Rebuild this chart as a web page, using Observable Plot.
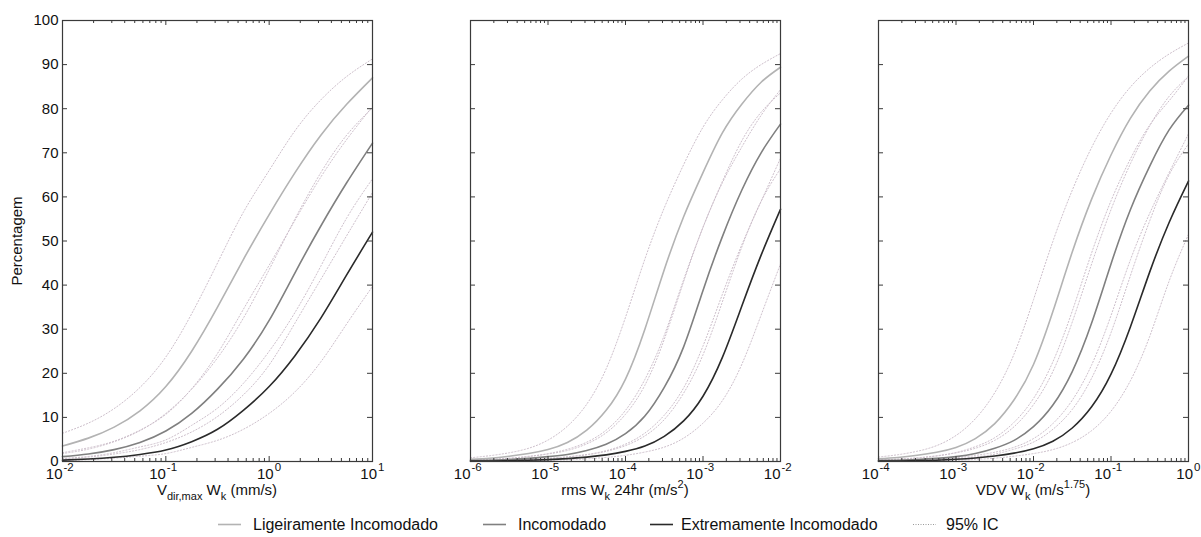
<!DOCTYPE html>
<html><head><meta charset="utf-8">
<script src="https://cdn.jsdelivr.net/npm/d3@7"></script>
<script src="https://cdn.jsdelivr.net/npm/@observablehq/plot@0.6"></script>
<style>
body{margin:0;background:#fff;font-family:"Liberation Sans",Arial,sans-serif;color:#111}
#wrap{position:relative;width:1201px;height:537px;overflow:hidden;background:#fff}
.panel{position:absolute;top:0}
.xt{position:absolute;top:481px;font-size:15px;white-space:nowrap;transform:translateX(-50%);line-height:17px}
.xt sub{font-size:11px;vertical-align:-5px;line-height:0}
.xt sup{font-size:11px;vertical-align:7px;line-height:0}
.lg{position:absolute;top:515px;font-size:16px;line-height:20px;white-space:nowrap}
.sw{position:absolute;top:515px}
</style></head>
<body><div id="wrap"></div>
<script>
// ---------- data ----------
const yTicks = [0,10,20,30,40,50,60,70,80,90,100];

// Panel 1: Vdir,max Wk (mm/s), log10 x at quarter decades
const p1Exp = [-2,-1.75,-1.5,-1.25,-1,-0.75,-0.5,-0.25,0,0.25,0.5,0.75,1];
const p1Majors = [1e-2,1e-1,1,10];
const p1Light   = [3.5,5.3,7.8,11.5,17,25,35,45.8,56,65.5,74,81,87];
const p1LightHi = [6.4,8.7,12,16.8,23.7,33.5,45,56.5,66,75,82,87.3,91.3];
const p1LightLo = [2.0,3.1,4.6,7.1,10.7,16.5,24.5,34.5,44.5,54.7,64.5,73,80.5];
const p1Mid     = [1.1,1.7,2.7,4.3,6.9,10.9,16.4,23.2,32,42.8,53.4,63.2,72.2];
const p1MidHi   = [1.8,2.8,4.5,7.0,10.9,16.4,23.5,32.5,43.5,55,65.5,74,80.2];
const p1MidLo   = [0.67,1.0,1.7,2.7,4.3,6.7,10.2,15.1,21.9,31.4,41.3,51.2,61];
const p1Dark    = [0.3,0.55,0.95,1.6,2.6,4.5,7.3,11.6,17,24,32.5,42.3,52];
const p1DarkHi  = [0.66,1.14,2.0,3.3,4.9,8.2,12.1,17.7,25,33.8,44.3,55.2,64.1];
const p1DarkLo  = [0.24,0.42,0.73,1.2,1.8,3.2,4.8,7.3,10.9,15.8,22.6,31.2,39.7];

// Panel 2: rms Wk 24hr (m/s^2)
const p2Exp = [-6,-5.75,-5.5,-5.25,-5,-4.75,-4.5,-4.25,-4,-3.75,-3.5,-3.25,-3,-2.75,-2.5,-2.25,-2];
const p2Majors = [1e-6,1e-5,1e-4,1e-3,1e-2];
const p2Light   = [0.5,0.75,1.2,1.8,2.7,4.3,7.1,11.6,18.7,30,43.5,55.5,65.5,74.5,81,86,89.4];
const p2LightHi = [0.84,1.32,1.98,3.0,4.86,8.0,13,21,32.7,45.9,57.5,67.3,75.8,82,86.7,90,92.5];
const p2LightLo = [0.3,0.46,0.7,1.1,1.7,2.5,4.0,6.5,10.7,17.3,27.7,40.8,53.1,63.5,72.7,79.2,83.6];
const p2Mid     = [0.2,0.3,0.45,0.7,1.1,1.6,2.5,3.9,6.3,10.3,16.8,26,38.8,51,61.5,70,76.5];
const p2MidHi   = [0.32,0.48,0.75,1.18,1.78,2.78,4.38,7.1,11.6,18.6,28.6,41.2,53.1,63.2,71.3,78.5,84.3];
const p2MidLo   = [0.12,0.18,0.28,0.42,0.65,1.02,1.5,2.3,3.6,5.8,9.5,15.5,24.2,36.2,48.6,59,66.4];
const p2Dark    = [0.08,0.12,0.18,0.28,0.42,0.65,1.0,1.5,2.3,3.5,5.7,9.2,14.8,23.6,35.2,46.8,57.2];
const p2DarkHi  = [0.13,0.19,0.3,0.45,0.7,1.07,1.6,2.45,3.94,6.44,10.5,16.7,26.2,37.9,49.1,59,68.8];
const p2DarkLo  = [0.05,0.07,0.11,0.17,0.26,0.39,0.6,0.93,1.4,2.14,3.26,5.3,8.7,13.8,22,33.2,44.8];

// Panel 3: VDV Wk (m/s^1.75)
const p3Exp = [-4,-3.75,-3.5,-3.25,-3,-2.75,-2.5,-2.25,-2,-1.75,-1.5,-1.25,-1,-0.75,-0.5,-0.25,0];
const p3Majors = [1e-4,1e-3,1e-2,1e-1,1];
const p3Light   = [0.6,0.9,1.4,2.1,3.2,5.2,8.6,14,22,34,47.5,59.5,69.5,77.8,84,88.5,91.9];
const p3LightHi = [1.0,1.54,2.32,3.6,5.9,9.7,15.6,24.4,36.7,49.9,61.5,71.2,79,84.9,89.2,92.4,94.9];
const p3LightLo = [0.38,0.55,0.84,1.3,1.96,3.0,4.8,7.9,12.9,20.4,31.6,44.8,57.1,67.5,76.1,82.8,87.3];
const p3Mid     = [0.2,0.3,0.45,0.7,1.1,1.8,3.0,4.8,7.9,12.8,20.4,31.4,44.8,57.1,67,75.2,80.8];
const p3MidHi   = [0.33,0.5,0.78,1.24,2.04,3.36,5.4,8.9,14.3,22.6,34.1,47.3,59.1,68.6,76.3,81.8,87.4];
const p3MidLo   = [0.12,0.18,0.28,0.42,0.65,1.02,1.66,2.8,4.4,7.3,11.8,18.9,29.2,42.1,54.6,65,72];
const p3Dark    = [0.08,0.12,0.2,0.3,0.5,0.8,1.25,1.9,2.9,4.6,7.6,12.4,19.8,30.5,43,54.2,63.6];
const p3DarkHi  = [0.14,0.22,0.34,0.56,0.89,1.38,2.1,3.24,5.2,8.6,13.9,21.9,33.1,45.7,56.3,65.5,74.3];
const p3DarkLo  = [0.05,0.07,0.11,0.18,0.3,0.47,0.75,1.2,1.8,2.7,4.3,7.0,11.4,18.3,28.4,40.9,51.5];

const seriesNames = ["Ligeiramente Incomodado","Incomodado","Extremamente Incomodado"];
const colors = ["#b3b3b3","#808080","#2a2a2a"];
const ciColor = "#cdbfcb";
const frameColor = "#3a3a3a";

// ---------- build ----------
function rows(exps, vals, series) { return exps.map((e, i) => ({x: Math.pow(10, e), y: vals[i], series})); }

const FW = 310, FH = 441, H = 485, MT = 20, MB = H - MT - FH;

function panel(cfg) {
  const {exps, majors, main, ci, left, width, marginLeft, showY} = cfg;
  const marginRight = width - marginLeft - FW;
  const minors = [];
  for (let i = 0; i < majors.length - 1; i++) for (let k = 2; k <= 9; k++) minors.push(majors[i] * k);
  const neg = majors.filter(d => Math.log10(d) < -0.5);
  const pos = majors.filter(d => Math.log10(d) >= -0.5);
  const expText = d => String(Math.round(Math.log10(d)));
  const marks = [];
  ci.forEach((v, i) => marks.push(Plot.line(rows(exps, v, "ci" + i), {x: "x", y: "y", stroke: ciColor, strokeWidth: 1, strokeDasharray: "1.2,2", curve: "natural"})));
  main.forEach((v, i) => marks.push(Plot.line(rows(exps, v, seriesNames[i]), {x: "x", y: "y", stroke: colors[i], strokeWidth: 1.6, curve: "natural"})));
  marks.push(
    Plot.frame({stroke: frameColor, strokeWidth: 1.2}),
    Plot.tickY(yTicks, {y: d => d, insetRight: FW - 5, stroke: frameColor}),
    Plot.tickY(yTicks, {y: d => d, insetLeft: FW - 5, stroke: frameColor}),
    Plot.tickX(majors, {x: d => d, insetTop: FH - 5, stroke: frameColor}),
    Plot.tickX(majors, {x: d => d, insetBottom: FH - 5, stroke: frameColor}),
    Plot.tickX(minors, {x: d => d, insetTop: FH - 3, stroke: frameColor}),
    Plot.tickX(minors, {x: d => d, insetBottom: FH - 3, stroke: frameColor}),
    Plot.text(neg, {x: d => d, frameAnchor: "bottom", text: () => "10", textAnchor: "end", dx: 0, dy: 17.5}),
    Plot.text(neg, {x: d => d, frameAnchor: "bottom", text: expText, textAnchor: "start", dx: 1, dy: 9.5, fontSize: 11.5}),
    Plot.text(pos, {x: d => d, frameAnchor: "bottom", text: () => "10", textAnchor: "end", dx: 4.5, dy: 17.5}),
    Plot.text(pos, {x: d => d, frameAnchor: "bottom", text: expText, textAnchor: "start", dx: 5.5, dy: 9.5, fontSize: 11.5})
  );
  if (showY) marks.push(Plot.axisY({ticks: yTicks, tickSize: 0, tickPadding: 4, label: "Percentagem", labelAnchor: "center", labelArrow: "none", labelOffset: 51}));
  const svg = Plot.plot({
    width, height: H, marginLeft, marginRight, marginTop: MT, marginBottom: MB,
    x: {type: "log", domain: [majors[0], majors[majors.length - 1]], axis: null},
    y: showY ? {domain: [0, 100]} : {domain: [0, 100], axis: null},
    style: {fontFamily: "'Liberation Sans', Arial, sans-serif", fontSize: "15px", color: "#111", background: "transparent", overflow: "visible"},
    marks
  });
  const div = document.createElement("div");
  div.className = "panel";
  div.style.left = left + "px";
  div.appendChild(svg);
  document.getElementById("wrap").appendChild(div);
  const t = document.createElement("div");
  t.className = "xt";
  t.style.left = (left + marginLeft + FW / 2) + "px";
  t.innerHTML = cfg.title;
  document.getElementById("wrap").appendChild(t);
}

panel({exps: p1Exp, majors: p1Majors, left: 0, width: 410, marginLeft: 62, showY: true,
  main: [p1Light, p1Mid, p1Dark], ci: [p1LightHi, p1LightLo, p1MidHi, p1MidLo, p1DarkHi, p1DarkLo],
  title: "V<sub>dir,max</sub> W<sub>k</sub> (mm/s)"});
panel({exps: p2Exp, majors: p2Majors, left: 430, width: 400, marginLeft: 40, showY: false,
  main: [p2Light, p2Mid, p2Dark], ci: [p2LightHi, p2LightLo, p2MidHi, p2MidLo, p2DarkHi, p2DarkLo],
  title: "rms W<sub>k</sub> 24hr (m/s<sup>2</sup>)"});
panel({exps: p3Exp, majors: p3Majors, left: 838, width: 363, marginLeft: 40, showY: false,
  main: [p3Light, p3Mid, p3Dark], ci: [p3LightHi, p3LightLo, p3MidHi, p3MidLo, p3DarkHi, p3DarkLo],
  title: "VDV W<sub>k</sub> (m/s<sup>1.75</sup>)"});

// ---------- legend ----------
const legendItems = [
  {label: seriesNames[0], color: colors[0], dash: null, sx: 218, tx: 253},
  {label: seriesNames[1], color: colors[1], dash: null, sx: 483, tx: 518},
  {label: seriesNames[2], color: colors[2], dash: null, sx: 650, tx: 681},
  {label: "95% IC", color: "#9a9a9a", dash: "1,1.5", sx: 913, tx: 946}
];
const wrap = document.getElementById("wrap");
for (const it of legendItems) {
  const s = document.createElementNS("http://www.w3.org/2000/svg", "svg");
  s.setAttribute("class", "sw"); s.setAttribute("width", 24); s.setAttribute("height", 20);
  s.style.left = it.sx + "px";
  const l = document.createElementNS("http://www.w3.org/2000/svg", "line");
  l.setAttribute("x1", 0); l.setAttribute("x2", 23); l.setAttribute("y1", 9.5); l.setAttribute("y2", 9.5);
  l.setAttribute("stroke", it.color); l.setAttribute("stroke-width", it.dash ? 1 : 1.6);
  if (it.dash) l.setAttribute("stroke-dasharray", it.dash);
  s.appendChild(l); wrap.appendChild(s);
  const t = document.createElement("div");
  t.className = "lg"; t.style.left = it.tx + "px"; t.textContent = it.label;
  wrap.appendChild(t);
}
</script></body></html>
